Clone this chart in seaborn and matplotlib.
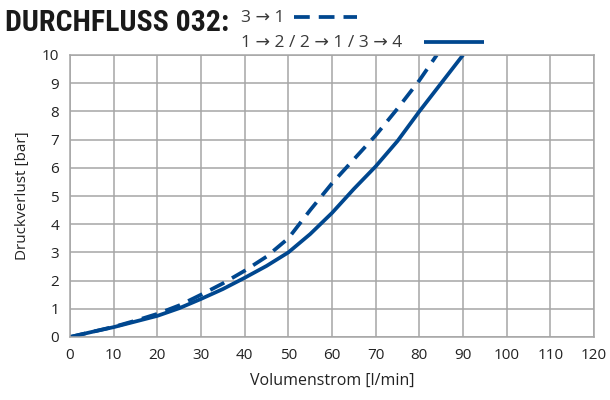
import matplotlib
matplotlib.use('Agg')
import matplotlib.pyplot as plt
from matplotlib.lines import Line2D
import seaborn as sns
import pandas as pd

sns.set_style("white")
plt.rcParams['font.family'] = ['Open Sans', 'DejaVu Sans']

# Volumenstrom [l/min] vs Druckverlust [bar]
flow_solid = [0, 5, 10, 15, 20, 25, 30, 35, 40, 45, 50, 55, 60, 65, 70, 75, 80, 85, 90]
dp_solid = [0, 0.18, 0.35, 0.55, 0.75, 1.02, 1.35, 1.7, 2.1, 2.52, 3.0, 3.65, 4.4, 5.25, 6.05, 6.95, 8.0, 9.0, 10.0]

flow_dash = [0, 5, 10, 15, 20, 25, 30, 35, 40, 45, 50, 55, 60, 65, 70, 75, 80, 84]
dp_dash = [0, 0.18, 0.36, 0.58, 0.82, 1.12, 1.5, 1.9, 2.35, 2.85, 3.5, 4.5, 5.45, 6.3, 7.15, 8.1, 9.1, 10.0]

label_dash = "3 \u2192 1"
label_solid = "1 \u2192 2 / 2 \u2192 1 / 3 \u2192 4"

df = pd.concat([
    pd.DataFrame({"flow": flow_dash, "dp": dp_dash, "serie": label_dash}),
    pd.DataFrame({"flow": flow_solid, "dp": dp_solid, "serie": label_solid}),
])

blue = "#00478f"
grid_col = "#a6a6a6"
lw = 2.7

fig = plt.figure(figsize=(6.1, 4.0), dpi=100)
ax = fig.add_axes([0.1148, 0.1575, 0.859, 0.705])

for name, dashes in [(label_dash, (4.2, 2.4)), (label_solid, None)]:
    sub = df[df["serie"] == name]
    sns.lineplot(data=sub, x="flow", y="dp", ax=ax, color=blue, linewidth=lw,
                 estimator=None, sort=False, legend=False)
    l = ax.lines[-1]
    l.set_solid_capstyle('butt')
    if dashes:
        l.set_dashes(dashes)
        l.set_dash_capstyle('butt')

ax.set_xlim(0, 120)
ax.set_ylim(0, 10)
ax.set_xticks(range(0, 121, 10))
ax.set_yticks(range(0, 11, 1))
ax.grid(True, color=grid_col, linewidth=1.1)
for s in ax.spines.values():
    s.set_color(grid_col)
    s.set_linewidth(1.1)
ax.tick_params(axis='both', length=5, color=grid_col, width=1.1, labelsize=11, labelcolor="#222222", pad=3)
ax.set_xlabel("Volumenstrom [l/min]", fontsize=11.5, color="#222222", labelpad=7)
ax.set_ylabel("Druckverlust [bar]", fontsize=11, color="#222222", labelpad=8)

fig.text(0.008, 0.922, "DURCHFLUSS 032:", fontsize=21.5, fontweight='bold', color="#1a1a1a",
         family=['DejaVu Sans Condensed', 'Roboto Condensed', 'Roboto'])
fig.text(0.395, 0.945, label_dash, fontsize=12.5, color="#3a3a3a")
fig.text(0.395, 0.883, label_solid, fontsize=12.5, color="#3a3a3a")
fig.add_artist(Line2D([0.482, 0.585], [0.957, 0.957], color=blue, linewidth=lw,
                      linestyle=(0, (4.2, 2.4)), transform=fig.transFigure, dash_capstyle='butt'))
fig.add_artist(Line2D([0.695, 0.793], [0.895, 0.895], color=blue, linewidth=lw,
                      transform=fig.transFigure, solid_capstyle='butt'))

plt.savefig("out.png", dpi=100)
plt.close(fig)
